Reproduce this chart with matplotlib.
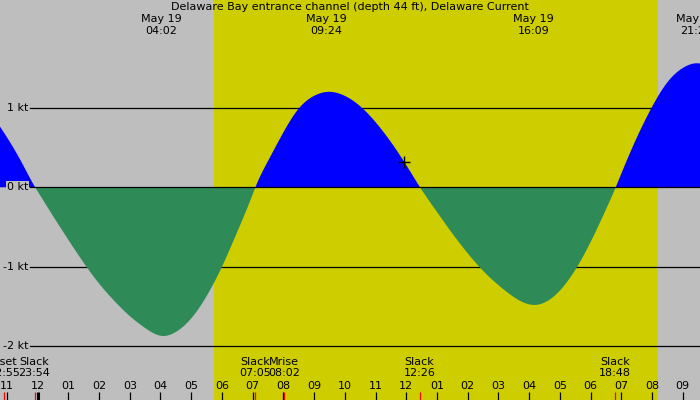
import numpy as np
import matplotlib
matplotlib.use("Agg")
import matplotlib.pyplot as plt

# ---- data (hours from May 19 00:00, current in knots) ----
times = [-1.5, -1.0, -0.5, -0.08, 0.0, 0.5, 1.0, 1.5, 2.0, 2.5, 3.0, 3.5, 4.05,
         4.5, 5.0, 5.5, 6.0, 6.5, 7.0, 7.09, 7.5, 8.0, 8.5, 9.0, 9.42, 10.0,
         10.5, 11.0, 11.5, 12.0, 12.45, 13.0, 13.5, 14.0, 14.5, 15.0, 15.5,
         16.17, 16.5, 17.0, 17.5, 18.0, 18.5, 18.82, 19.0, 19.5, 20.0, 20.5,
         21.0, 21.45, 22.0]
speeds = [0.92, 0.63, 0.30, 0.0, -0.05, -0.36, -0.66, -0.95, -1.21, -1.43, -1.62, -1.77,
          -1.87, -1.82, -1.65, -1.37, -1.00, -0.56, -0.09, 0.0, 0.33, 0.69, 0.99,
          1.15, 1.20, 1.15, 1.02, 0.82, 0.57, 0.28, 0.0, -0.31, -0.58,
          -0.83, -1.05, -1.23, -1.38, -1.48, -1.45, -1.30, -1.04, -0.69, -0.28,
          0.0, 0.17, 0.62, 1.01, 1.32, 1.50, 1.56, 1.50]

# extremes shown on top
top_times = [4.033, 9.40, 16.15, 21.45]
top_dates = ["May 19", "May 19", "May 19", "May 19"]
top_labels = ["04:02", "09:24", "16:09", "21:27"]

# events shown at bottom
ev_times = [-1.083, -0.10, 7.083, 8.033, 12.433, 18.80]
ev_names = ["Mset", "Slack", "Slack", "Mrise", "Slack", "Slack"]
ev_labels = ["22:55", "23:54", "07:05", "08:02", "12:26", "18:48"]

# hour ticks
hour_ticks = list(range(-1, 22))
hour_labels = ["11", "12", "01", "02", "03", "04", "05", "06", "07", "08", "09", "10",
               "11", "12", "01", "02", "03", "04", "05", "06", "07", "08", "09"]

grid_levels = [-2, -1, 0, 1]
grid_labels = ["-2 kt", "-1 kt", "0 kt", "1 kt"]

sunrise, sunset = 5.73, 20.18
now_t, now_v = 11.93, 0.32

title = "Delaware Bay entrance channel (depth 44 ft), Delaware Current"

# ---- colours ----
NIGHT = "#BEBEBE"
DAY = "#CDCD00"
FLOOD = "#0000FF"
EBB = "#2E8B57"
FS = 8.0


def natural_spline(x, y, xn):
    x = np.asarray(x, float)
    y = np.asarray(y, float)
    n = len(x)
    h = np.diff(x)
    A = np.zeros((n, n))
    r = np.zeros(n)
    A[0, 0] = 1.0
    A[-1, -1] = 1.0
    for i in range(1, n - 1):
        A[i, i - 1] = h[i - 1]
        A[i, i] = 2 * (h[i - 1] + h[i])
        A[i, i + 1] = h[i]
        r[i] = 3 * ((y[i + 1] - y[i]) / h[i] - (y[i] - y[i - 1]) / h[i - 1])
    c = np.linalg.solve(A, r)
    b = (y[1:] - y[:-1]) / h - h * (2 * c[:-1] + c[1:]) / 3
    d = (c[1:] - c[:-1]) / (3 * h)
    idx = np.clip(np.searchsorted(x, xn) - 1, 0, n - 2)
    dx = xn - x[idx]
    return y[idx] + b[idx] * dx + c[idx] * dx**2 + d[idx] * dx**3


fig = plt.figure(figsize=(7, 4), dpi=100)
ax = fig.add_axes([0, 0, 1, 1])
x0, x1 = -1.224, 21.563
y0, y1 = -2.676, 2.356
ax.set_xlim(x0, x1)
ax.set_ylim(y0, y1)
ax.axis("off")
ax.set_facecolor(NIGHT)
fig.patch.set_facecolor(NIGHT)

ax.axvspan(sunrise, sunset, color=DAY, lw=0, zorder=0)

tf = np.linspace(min(times), max(times), 3000)
vf = natural_spline(times, speeds, tf)
ax.fill_between(tf, 0, vf, where=vf >= 0, interpolate=True, color=FLOOD, lw=0, zorder=2)
ax.fill_between(tf, 0, vf, where=vf <= 0, interpolate=True, color=EBB, lw=0, zorder=2)

# grid lines
for lv, lb in zip(grid_levels, grid_labels):
    ax.plot([-0.25, x1], [lv, lv], color="black", lw=0.9,
            zorder=3 if lv == 0 else 1)
    ax.text(-0.30, lv, lb, ha="right", va="center", fontsize=FS, color="black",
            zorder=4,
            bbox=dict(boxstyle="square,pad=0.1", fc=NIGHT, ec="none"))

ax.plot([now_t], [now_v], marker="+", color="black", ms=8, mew=1, zorder=4)

ax.text(0.5, 2.268, title, transform=ax.get_yaxis_transform(), ha="center",
        va="center", fontsize=FS)
for t, dte, lb in zip(top_times, top_dates, top_labels):
    ax.text(t, 2.117, dte, ha="center", va="center", fontsize=FS)
    ax.text(t, 1.960, lb, ha="center", va="center", fontsize=FS)

for t, nm, lb in zip(ev_times, ev_names, ev_labels):
    ax.text(t, -2.200, nm, ha="center", va="center", fontsize=FS)
    ax.text(t, -2.340, lb, ha="center", va="center", fontsize=FS)

for t, lb in zip(hour_ticks, hour_labels):
    ax.text(t, -2.50, lb, ha="center", va="center", fontsize=FS)
    ax.plot([t, t], [-2.575, y0], color="black", lw=2.2 if t == 0 else 0.9,
            solid_capstyle="butt", zorder=5)

for t in ev_times:
    ax.plot([t, t], [-2.575, y0], color="red", lw=0.9, solid_capstyle="butt", zorder=6)

fig.savefig("out.png", dpi=100, facecolor=NIGHT)
